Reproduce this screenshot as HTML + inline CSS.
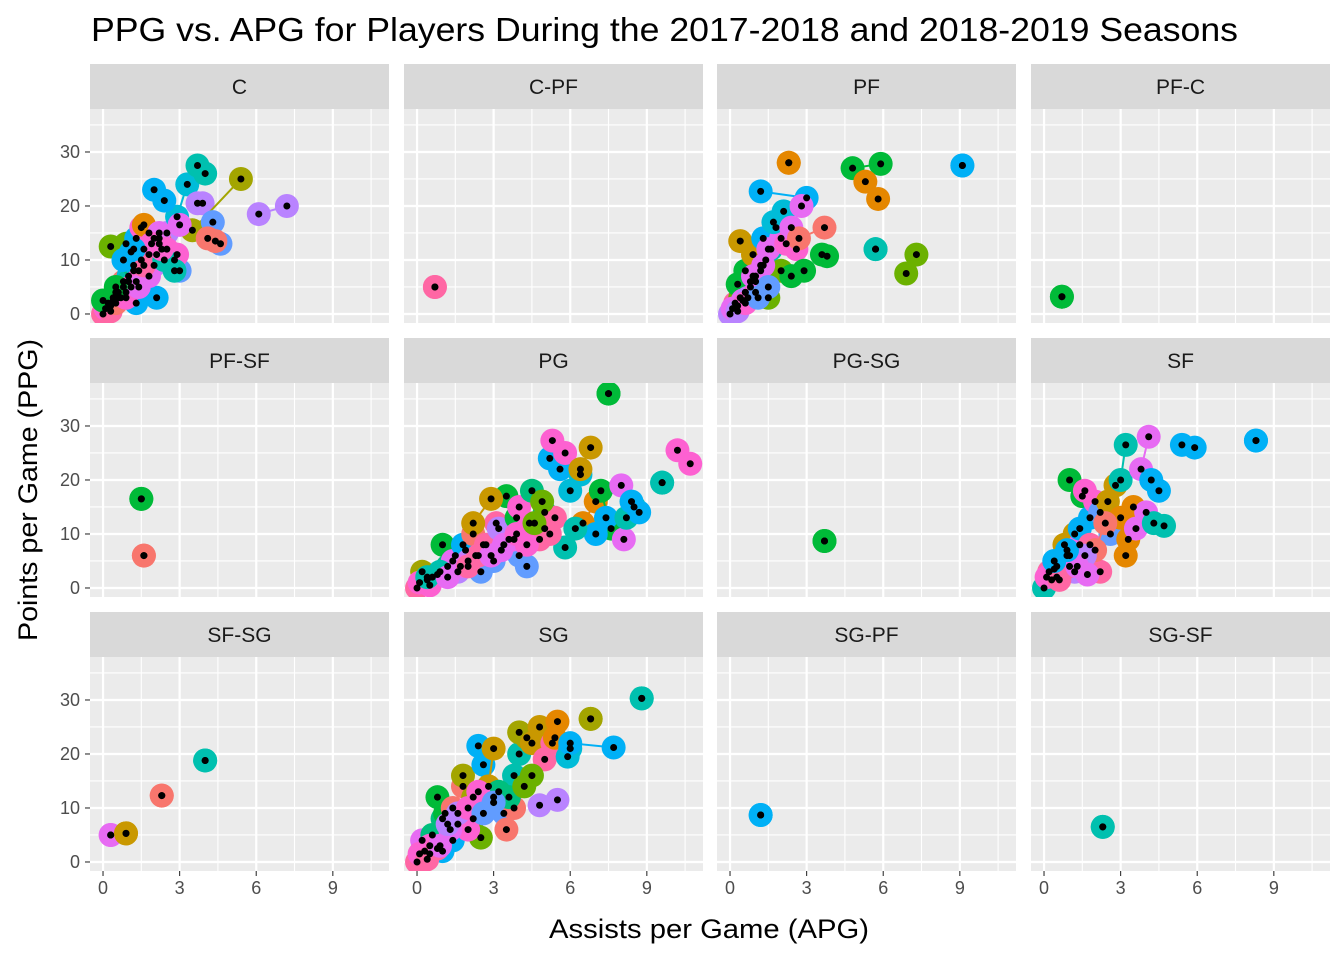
<!DOCTYPE html>
<html><head><meta charset="utf-8"><style>
body{margin:0;background:#fff;}
svg{display:block;font-family:"Liberation Sans",sans-serif;}
</style></head><body>
<svg id="chart" width="1344" height="960" viewBox="0 0 1344 960">
<text x="91" y="41" font-size="33" textLength="1147" lengthAdjust="spacingAndGlyphs" fill="#000">PPG vs. APG for Players During the 2017-2018 and 2018-2019 Seasons</text>
<text x="709" y="938" font-size="27" textLength="320" lengthAdjust="spacingAndGlyphs" text-anchor="middle" fill="#000">Assists per Game (APG)</text>
<text transform="translate(37,490) rotate(-90)" font-size="27" textLength="302" lengthAdjust="spacingAndGlyphs" text-anchor="middle" fill="#000">Points per Game (PPG)</text>
<g id="panels"></g>
</svg>
<script>
const facetNames=["C","C-PF","PF","PF-C","PF-SF","PG","PG-SG","SF","SF-SG","SG","SG-PF","SG-SF"];
const xTicks=[0,3,6,9];
const yTicks=[0,10,20,30];
const palette=["#F8766D","#E58700","#C99800","#A3A500","#6BB100","#00BA38","#00BF7D","#00C0AF","#00BCD8","#00B0F6","#619CFF","#B983FF","#E76BF3","#FD61D1","#FF67A4"];
// each player: [apg season1, ppg season1, apg season2, ppg season2, colour index]
const dataC=[[0,0,0.3,1.5,14],[0.2,2,0.5,4,5],[0.4,3,0.8,6,0],[0.6,4,1,7,8],[0.8,5,1.2,8,12],[1,6,1.5,10,7],[1.2,9,1.6,12,6],[0.3,12.5,0.9,13,4],[1.3,14,1.8,15,9],[1.5,16,2,14,13],[1.8,11,2.2,13,14],[2,9,2.5,15,11],[1.6,16.5,2.2,14,1],[2.9,18,3.3,24,8],[2,23,2.4,21,9],[3.7,27.5,4,26,7],[3.9,20.5,3.7,20.5,11],[5.4,25,3.5,15.5,3],[6.1,18.5,7.2,20,11],[4.3,17,4.6,13,10],[4.1,14,4.4,13.5,0],[2.1,3,1.3,2,9],[3,8,2.8,10,10],[2.2,15,3,16.5,12],[1.1,11.5,1.4,8,8],[0.7,3,1.1,5,14],[2.5,12,2.9,11,13],[0.1,1,0.4,2.5,13],[0.3,0.5,0.6,3,14],[0.5,2,0.9,4,0],[0.9,3,1.3,6,13],[1.4,5,1.8,7,12],[0,2.5,0.5,5,5],[1.6,9,2.1,11,14],[2.4,10,2.8,8,7],[1.9,13,2.3,12,13],[0.8,10,1.2,12,9]];
const dataCPF=[[0.7,5,0.7,5,14]];
const dataPF=[[0,0,0.3,1.5,11],[0.2,2,0.6,4,14],[0.4,3,0.8,6,4],[0.6,4,1,7,12],[0.8,5,1.2,8,2],[1,6,1.4,10,9],[1.2,9,1.6,12,7],[0.3,5.5,0.6,8,5],[0.4,13.5,0.9,11,2],[1.3,14,1.8,16,9],[1.5,12,2,14,12],[2.2,13,2.6,12,13],[1.7,17,2.1,19,8],[1.2,22.7,3,21.5,9],[2.8,20,2.4,16,12],[2.3,28,2.3,28,1],[4.8,27,5.9,27.8,5],[5.3,24.5,5.8,21.3,1],[3.7,16,2.7,14,0],[5.7,12,5.7,12,7],[3.6,11,3.8,10.7,5],[7.3,11,6.9,7.5,4],[9.1,27.5,9.1,27.5,9],[1.5,3,2,8,4],[2.4,7,2.9,8,5],[0.1,1,0.5,2.5,12],[0.3,0.5,0.7,3,11],[0.6,2,1,4,13],[0.9,7,1.3,9,12],[1.1,3,1.5,5,10]];
const dataPFC=[[0.7,3.2,0.7,3.2,5]];
const dataPFSF=[[1.5,16.5,1.5,16.5,5],[1.6,6,1.6,6,0]];
const dataPG=[[0,0,0.4,1.5,14],[0.2,3,0.6,2,3],[0.8,2.5,1.2,4,6],[1,8,1.5,6,5],[1.4,5,1.9,7,12],[1.8,8,2.3,6,9],[2.2,10,2.6,8,0],[2.7,8,3.1,12,14],[2.5,3,3,5,10],[3.2,11,3.6,9,11],[3.5,17,3.9,13,5],[2.2,12,2.9,16.5,2],[4,15,4.4,12,13],[4.3,4,4,6,10],[4.5,18,5,14,6],[5,11,5.4,13,14],[5.2,24,5.6,22,9],[5.3,27.3,5.8,25,13],[6,18,6.4,21,8],[6.4,22,6.8,26,2],[6.5,12,7,16,1],[7.2,18,7.6,11,5],[7,10,7.4,13,9],[7.5,36,7.5,36,5],[8,19,8.1,9,12],[8.2,13,8.5,15,7],[9.6,19.5,9.6,19.5,7],[10.2,25.5,10.7,23,13],[8.7,14,8.4,16,9],[5.8,7.5,6.2,11,7],[3.3,7,3.8,9,12],[1.6,3,2,5,11],[4.8,9,5.2,10,14],[0.1,1,0.5,0.5,13],[0.4,2,0.9,3,7],[1.2,2,1.7,4,12],[2,4,2.4,6,14],[2.9,6,3.4,8,12],[3.9,10,4.3,8,13],[4.6,12,4.9,16,4]];
const dataPGSG=[[3.7,8.7,3.7,8.7,5]];
const dataSF=[[0,0,0.3,1.5,7],[0.2,3,0.5,2,14],[0.5,4,0.9,6,5],[0.8,8,1.2,10,2],[1,6,1.4,8,12],[1,20,1.5,17,5],[1.4,11,1.8,13,9],[1.6,18,2,16,13],[1.8,8,2.2,3,14],[2.2,14,2.6,10,10],[2.5,16,2.8,19,2],[3.2,26.5,3,20,7],[4.1,28,3.8,22,12],[3,13,3.5,15,1],[3.2,6,3.3,9,1],[3.6,11,4,14,12],[4.2,20,4.5,18,9],[4.7,11.5,4.3,12,7],[5.4,26.5,5.9,26,9],[8.3,27.3,8.3,27.3,9],[2,7,2.4,12,0],[1.2,3,1.6,6,11],[0.1,2,0.4,3.5,13],[0.6,1.5,1,4,14],[1.3,4,1.7,2.5,12],[0.4,5,0.9,7,9]];
const dataSFSG=[[0.3,5,0.3,5,12],[0.9,5.3,0.9,5.3,2],[2.3,12.3,2.3,12.3,0],[4,18.8,4,18.8,7]];
const dataSG=[[0,0,0.3,2,14],[0.2,4,0.5,1.5,12],[0.6,5,1,8,6],[0.8,12,1.1,9,5],[1,2,1.4,4,9],[1.4,10,1.8,14,0],[1.8,16,2.2,12,3],[2.4,21.5,2.6,18,9],[2.2,8,2.5,4.5,4],[2.8,14,3,21,2],[3,12,3.4,9,10],[3.5,6,3.8,10,0],[3.8,16,4,20,7],[4,24,4.3,23,3],[4.5,22,4.8,25,2],[5,19,5.3,22,14],[5.5,26,5.4,23,1],[6,21,5.9,19.5,8],[6.8,26.5,6.8,26.5,3],[8.8,30.3,8.8,30.3,7],[7.7,21.2,6,22,9],[5.5,11.5,4.8,10.5,11],[3.2,13,3.6,12,6],[1.6,7,2,6,13],[4.2,14,4.5,16,4],[0.1,1.5,0.5,3,13],[0.4,0.5,0.8,2.5,14],[0.9,3,1.3,6,12],[1.2,7,1.6,9,11],[2,10,2.4,13,13],[2.6,9,3,11,10]];
const dataSGPF=[[1.2,8.7,1.2,8.7,9]];
const dataSGSF=[[2.3,6.5,2.3,6.5,7]];
const facetData=[dataC,dataCPF,dataPF,dataPFC,dataPFSF,dataPG,dataPGSG,dataSF,dataSFSG,dataSG,dataSGPF,dataSGSF];

const NS="http://www.w3.org/2000/svg";
const colX=[90,404,717,1031], PW=299;
const rowY=[64,338,612], SH=45, PH=214;
const xMin=-0.51, xMax=11.2, yMin=-1.67, yMax=37.96;
function mk(t,a,p){const e=document.createElementNS(NS,t);for(const k in a)e.setAttribute(k,a[k]);p.appendChild(e);return e;}
const root=document.getElementById('panels');
facetNames.forEach((name,i)=>{
  const c=i%4,r=Math.floor(i/4);
  const x0=colX[c], sy=rowY[r], py=sy+SH;
  const sx=v=>x0+(v-xMin)/(xMax-xMin)*PW;
  const syy=v=>py+PH-(v-yMin)/(yMax-yMin)*PH;
  const g=mk('g',{},root);
  
  
  const strip=mk('rect',{x:x0,y:sy,width:PW,height:SH,fill:'#D9D9D9'},g);
  
  
  const st=mk('text',{x:x0+PW/2,y:sy+30,'font-size':21,'text-anchor':'middle',fill:'#1A1A1A'},g);
  st.textContent=name;
  
  
  const bg=mk('rect',{x:x0,y:py,width:PW,height:PH,fill:'#EBEBEB'},g);
  
  
  [1.5,4.5,7.5,10.5].forEach(v=>mk('line',{x1:sx(v),x2:sx(v),y1:py,y2:py+PH,stroke:'#fff','stroke-width':1.1},g));
  [5,15,25,35].forEach(v=>mk('line',{x1:x0,x2:x0+PW,y1:syy(v),y2:syy(v),stroke:'#fff','stroke-width':1.1},g));
  xTicks.forEach(v=>mk('line',{x1:sx(v),x2:sx(v),y1:py,y2:py+PH,stroke:'#fff','stroke-width':2.2},g));
  yTicks.forEach(v=>mk('line',{x1:x0,x2:x0+PW,y1:syy(v),y2:syy(v),stroke:'#fff','stroke-width':2.2},g));
  if(c===0){yTicks.forEach(v=>{
    mk('line',{x1:x0-5,x2:x0,y1:syy(v),y2:syy(v),stroke:'#333','stroke-width':1.1},g);
    const t=mk('text',{x:x0-10,y:syy(v)+6,'font-size':18,'text-anchor':'end',fill:'#4D4D4D'},g);
    t.textContent=v;
    
    
  });}
  if(r===2){xTicks.forEach(v=>{
    mk('line',{x1:sx(v),x2:sx(v),y1:py+PH,y2:py+PH+5,stroke:'#333','stroke-width':1.1},g);
    const t=mk('text',{x:sx(v),y:py+PH+23,'font-size':18,'text-anchor':'middle',fill:'#4D4D4D'},g);
    t.textContent=v;
    
    
  });}
  const cp=mk('clipPath',{id:'cp'+i},g);
  mk('rect',{x:x0,y:py,width:PW,height:PH},cp);
  const dg=mk('g',{'clip-path':'url(#cp'+i+')'},g);
  const pts=facetData[i];
  pts.forEach(d=>{
    const col=palette[d[4]];
    const ln=mk('line',{x1:sx(d[0]),y1:syy(d[1]),x2:sx(d[2]),y2:syy(d[3]),stroke:col,'stroke-width':2},dg);
    
    
    [[d[0],d[1]],[d[2],d[3]]].forEach(p=>{
      const cc=mk('circle',{cx:sx(p[0]),cy:syy(p[1]),r:12,fill:col},dg);
      
      
    });
  });
  pts.forEach(d=>{
    [[d[0],d[1]],[d[2],d[3]]].forEach(p=>{
      const b=mk('circle',{cx:sx(p[0]),cy:syy(p[1]),r:3.5,fill:'#000'},dg);
      
      
    });
  });
});
</script>
</body></html>
